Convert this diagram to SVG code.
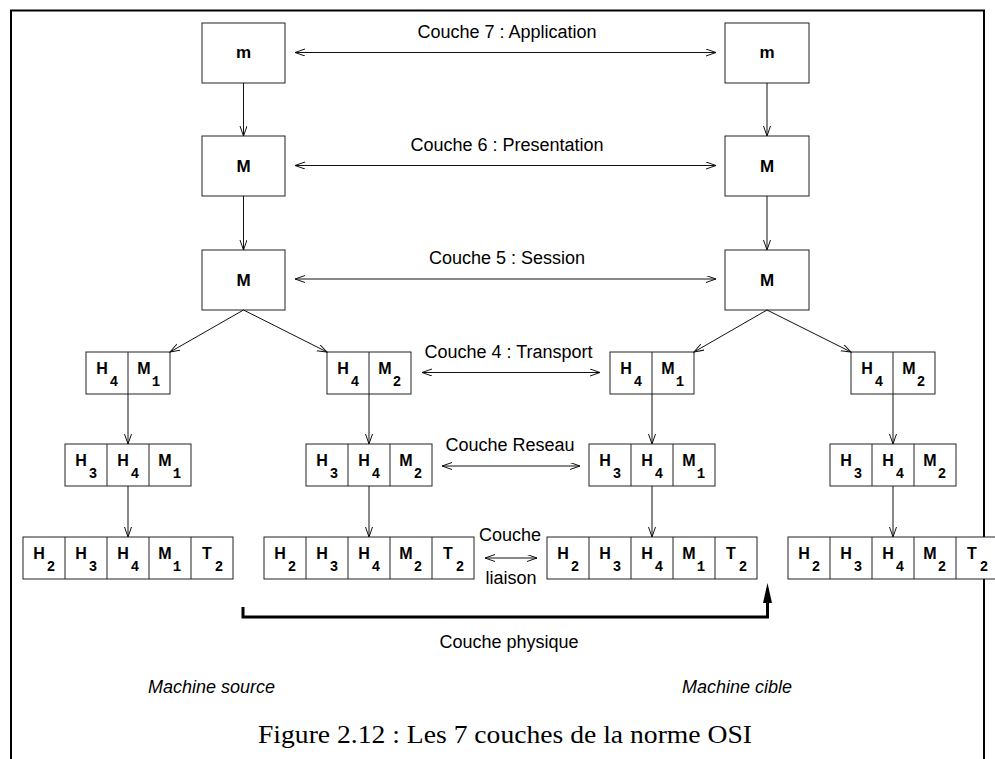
<svg xmlns="http://www.w3.org/2000/svg" width="995" height="759" viewBox="0 0 995 759">
  <style>
    .bx { fill: #fff; stroke: #222; stroke-width: 1; }
    .dv { stroke: #222; stroke-width: 1; }
    .ln { stroke: #111; stroke-width: 1; fill: none; }
    .lbl { font-family: "Liberation Sans", Arial, sans-serif; font-size: 18px; fill: #000; }
    .it { font-family: "Liberation Sans", Arial, sans-serif; font-size: 18px; font-style: italic; fill: #000; }
    .big { font-family: "Liberation Sans", Arial, sans-serif; font-size: 16px; font-weight: bold; fill: #000; text-anchor: middle; }
    .one { font-family: "Liberation Sans", Arial, sans-serif; font-size: 17px; font-weight: bold; fill: #000; text-anchor: middle; }
    .sub { font-family: "Liberation Mono", "Courier New", monospace; font-size: 14px; font-weight: bold; fill: #000; text-anchor: middle; }
    .cap { font-family: "Liberation Serif", "Times New Roman", serif; font-size: 25px; fill: #000; }
  </style>
  <defs>
    <marker id="open" markerUnits="userSpaceOnUse" markerWidth="12" markerHeight="8" refX="10" refY="3.5" orient="auto-start-reverse">
      <path d="M0,0 L10,3.5 L0,7" fill="none" stroke="#111" stroke-width="1"/>
    </marker>
  </defs>

  <rect width="995" height="759" fill="#fff"/>

  <!-- page frame -->
  <path d="M11,759 V10.5 H984 V759" fill="none" stroke="#000" stroke-width="2"/>

  <!-- single-field messages, upper layers -->
  <g id="src-l7"><rect class="bx" x="202" y="23" width="83" height="60"/><text class="one" x="243.5" y="58">m</text></g>
  <g id="src-l6"><rect class="bx" x="202" y="136" width="83" height="60"/><text class="one" x="243.5" y="172">M</text></g>
  <g id="src-l5"><rect class="bx" x="202" y="250" width="83" height="60"/><text class="one" x="243.5" y="286">M</text></g>
  <g id="dst-l7"><rect class="bx" x="725" y="23" width="84" height="60"/><text class="one" x="767" y="58">m</text></g>
  <g id="dst-l6"><rect class="bx" x="725" y="136" width="84" height="60"/><text class="one" x="767" y="172">M</text></g>
  <g id="dst-l5"><rect class="bx" x="725" y="250" width="84" height="60"/><text class="one" x="767" y="286">M</text></g>

  <!-- transport segments (H4 + part of message) -->
  <g id="src-l4a">
    <rect class="bx" x="86" y="352" width="84" height="42"/><line class="dv" x1="128" y1="352" x2="128" y2="394"/>
    <text class="big" x="102" y="373.5">H</text><text class="sub" x="114" y="386">4</text>
    <text class="big" x="144" y="373.5">M</text><text class="sub" x="156" y="386">1</text>
  </g>
  <g id="src-l4b">
    <rect class="bx" x="327" y="352" width="84" height="42"/><line class="dv" x1="369" y1="352" x2="369" y2="394"/>
    <text class="big" x="343" y="373.5">H</text><text class="sub" x="355" y="386">4</text>
    <text class="big" x="385" y="373.5">M</text><text class="sub" x="397" y="386">2</text>
  </g>
  <g id="dst-l4a">
    <rect class="bx" x="610" y="352" width="84" height="42"/><line class="dv" x1="652" y1="352" x2="652" y2="394"/>
    <text class="big" x="626" y="373.5">H</text><text class="sub" x="638" y="386">4</text>
    <text class="big" x="668" y="373.5">M</text><text class="sub" x="680" y="386">1</text>
  </g>
  <g id="dst-l4b">
    <rect class="bx" x="851" y="352" width="84" height="42"/><line class="dv" x1="893" y1="352" x2="893" y2="394"/>
    <text class="big" x="867" y="373.5">H</text><text class="sub" x="879" y="386">4</text>
    <text class="big" x="909" y="373.5">M</text><text class="sub" x="921" y="386">2</text>
  </g>

  <!-- network packets (H3 H4 M) -->
  <g id="src-l3a">
    <rect class="bx" x="65" y="444" width="126" height="42"/>
    <line class="dv" x1="107" y1="444" x2="107" y2="486"/><line class="dv" x1="149" y1="444" x2="149" y2="486"/>
    <text class="big" x="81" y="466">H</text><text class="sub" x="93" y="478">3</text>
    <text class="big" x="123" y="466">H</text><text class="sub" x="135" y="478">4</text>
    <text class="big" x="165" y="466">M</text><text class="sub" x="177" y="478">1</text>
  </g>
  <g id="src-l3b">
    <rect class="bx" x="306" y="444" width="126" height="42"/>
    <line class="dv" x1="348" y1="444" x2="348" y2="486"/><line class="dv" x1="390" y1="444" x2="390" y2="486"/>
    <text class="big" x="322" y="466">H</text><text class="sub" x="334" y="478">3</text>
    <text class="big" x="364" y="466">H</text><text class="sub" x="376" y="478">4</text>
    <text class="big" x="406" y="466">M</text><text class="sub" x="418" y="478">2</text>
  </g>
  <g id="dst-l3a">
    <rect class="bx" x="589" y="444" width="126" height="42"/>
    <line class="dv" x1="631" y1="444" x2="631" y2="486"/><line class="dv" x1="673" y1="444" x2="673" y2="486"/>
    <text class="big" x="605" y="466">H</text><text class="sub" x="617" y="478">3</text>
    <text class="big" x="647" y="466">H</text><text class="sub" x="659" y="478">4</text>
    <text class="big" x="689" y="466">M</text><text class="sub" x="701" y="478">1</text>
  </g>
  <g id="dst-l3b">
    <rect class="bx" x="830" y="444" width="126" height="42"/>
    <line class="dv" x1="872" y1="444" x2="872" y2="486"/><line class="dv" x1="914" y1="444" x2="914" y2="486"/>
    <text class="big" x="846" y="466">H</text><text class="sub" x="858" y="478">3</text>
    <text class="big" x="888" y="466">H</text><text class="sub" x="900" y="478">4</text>
    <text class="big" x="930" y="466">M</text><text class="sub" x="942" y="478">2</text>
  </g>

  <!-- data-link frames (H2 H3 H4 M T2) -->
  <g id="src-l2a">
    <rect class="bx" x="23" y="537" width="210" height="42"/>
    <line class="dv" x1="65" y1="537" x2="65" y2="579"/><line class="dv" x1="107" y1="537" x2="107" y2="579"/>
    <line class="dv" x1="149" y1="537" x2="149" y2="579"/><line class="dv" x1="191" y1="537" x2="191" y2="579"/>
    <text class="big" x="39" y="559">H</text><text class="sub" x="51" y="571">2</text>
    <text class="big" x="81" y="559">H</text><text class="sub" x="93" y="571">3</text>
    <text class="big" x="123" y="559">H</text><text class="sub" x="135" y="571">4</text>
    <text class="big" x="165" y="559">M</text><text class="sub" x="177" y="571">1</text>
    <text class="big" x="207" y="559">T</text><text class="sub" x="219" y="571">2</text>
  </g>
  <g id="src-l2b">
    <rect class="bx" x="264" y="537" width="210" height="42"/>
    <line class="dv" x1="306" y1="537" x2="306" y2="579"/><line class="dv" x1="348" y1="537" x2="348" y2="579"/>
    <line class="dv" x1="390" y1="537" x2="390" y2="579"/><line class="dv" x1="432" y1="537" x2="432" y2="579"/>
    <text class="big" x="280" y="559">H</text><text class="sub" x="292" y="571">2</text>
    <text class="big" x="322" y="559">H</text><text class="sub" x="334" y="571">3</text>
    <text class="big" x="364" y="559">H</text><text class="sub" x="376" y="571">4</text>
    <text class="big" x="406" y="559">M</text><text class="sub" x="418" y="571">2</text>
    <text class="big" x="448" y="559">T</text><text class="sub" x="460" y="571">2</text>
  </g>
  <g id="dst-l2a">
    <rect class="bx" x="547" y="537" width="210" height="42"/>
    <line class="dv" x1="589" y1="537" x2="589" y2="579"/><line class="dv" x1="631" y1="537" x2="631" y2="579"/>
    <line class="dv" x1="673" y1="537" x2="673" y2="579"/><line class="dv" x1="715" y1="537" x2="715" y2="579"/>
    <text class="big" x="563" y="559">H</text><text class="sub" x="575" y="571">2</text>
    <text class="big" x="605" y="559">H</text><text class="sub" x="617" y="571">3</text>
    <text class="big" x="647" y="559">H</text><text class="sub" x="659" y="571">4</text>
    <text class="big" x="689" y="559">M</text><text class="sub" x="701" y="571">1</text>
    <text class="big" x="731" y="559">T</text><text class="sub" x="743" y="571">2</text>
  </g>
  <g id="dst-l2b">
    <rect class="bx" x="788" y="537" width="210" height="42"/>
    <line class="dv" x1="830" y1="537" x2="830" y2="579"/><line class="dv" x1="872" y1="537" x2="872" y2="579"/>
    <line class="dv" x1="914" y1="537" x2="914" y2="579"/><line class="dv" x1="956" y1="537" x2="956" y2="579"/>
    <text class="big" x="804" y="559">H</text><text class="sub" x="816" y="571">2</text>
    <text class="big" x="846" y="559">H</text><text class="sub" x="858" y="571">3</text>
    <text class="big" x="888" y="559">H</text><text class="sub" x="900" y="571">4</text>
    <text class="big" x="930" y="559">M</text><text class="sub" x="942" y="571">2</text>
    <text class="big" x="972" y="559">T</text><text class="sub" x="984" y="571">2</text>
  </g>

  <!-- connectors -->
  <g id="connectors">
    <!-- encapsulation, source side -->
    <line class="ln" x1="243.5" y1="83" x2="243.5" y2="136" marker-end="url(#open)"/>
    <line class="ln" x1="243.5" y1="196" x2="243.5" y2="250" marker-end="url(#open)"/>
    <line class="ln" x1="243.5" y1="310" x2="170" y2="352" marker-end="url(#open)"/>
    <line class="ln" x1="243.5" y1="310" x2="327" y2="352" marker-end="url(#open)"/>
    <line class="ln" x1="128" y1="394" x2="128" y2="444" marker-end="url(#open)"/>
    <line class="ln" x1="369" y1="394" x2="369" y2="444" marker-end="url(#open)"/>
    <line class="ln" x1="128" y1="486" x2="128" y2="537" marker-end="url(#open)"/>
    <line class="ln" x1="369" y1="486" x2="369" y2="537" marker-end="url(#open)"/>
    <!-- encapsulation, target side -->
    <line class="ln" x1="767" y1="83" x2="767" y2="136" marker-end="url(#open)"/>
    <line class="ln" x1="767" y1="196" x2="767" y2="250" marker-end="url(#open)"/>
    <line class="ln" x1="767" y1="310" x2="694" y2="352" marker-end="url(#open)"/>
    <line class="ln" x1="767" y1="310" x2="851" y2="352" marker-end="url(#open)"/>
    <line class="ln" x1="652" y1="394" x2="652" y2="444" marker-end="url(#open)"/>
    <line class="ln" x1="893" y1="394" x2="893" y2="444" marker-end="url(#open)"/>
    <line class="ln" x1="652" y1="486" x2="652" y2="537" marker-end="url(#open)"/>
    <line class="ln" x1="893" y1="486" x2="893" y2="537" marker-end="url(#open)"/>
    <!-- peer-to-peer dialogues -->
    <line class="ln" x1="295" y1="52.5" x2="716" y2="52.5" marker-start="url(#open)" marker-end="url(#open)"/>
    <line class="ln" x1="295" y1="165.5" x2="716" y2="165.5" marker-start="url(#open)" marker-end="url(#open)"/>
    <line class="ln" x1="295" y1="279" x2="716" y2="279" marker-start="url(#open)" marker-end="url(#open)"/>
    <line class="ln" x1="422" y1="372.5" x2="600" y2="372.5" marker-start="url(#open)" marker-end="url(#open)"/>
    <line class="ln" x1="442" y1="466" x2="580" y2="466" marker-start="url(#open)" marker-end="url(#open)"/>
    <line class="ln" x1="485" y1="558" x2="537" y2="558" marker-start="url(#open)" marker-end="url(#open)"/>
    <!-- physical medium -->
    <path d="M243,607 V617 H767.5 V600" fill="none" stroke="#000" stroke-width="3"/>
    <path d="M767.5,583 L772,603 L763,603 Z" fill="#000"/>
  </g>

  <!-- layer labels -->
  <text class="lbl" x="507" y="38" text-anchor="middle">Couche 7 : Application</text>
  <text class="lbl" x="507" y="151" text-anchor="middle">Couche 6 : Presentation</text>
  <text class="lbl" x="507" y="264" text-anchor="middle">Couche 5 : Session</text>
  <text class="lbl" x="508.5" y="358" text-anchor="middle">Couche 4 : Transport</text>
  <text class="lbl" x="510" y="451" text-anchor="middle">Couche Reseau</text>
  <text class="lbl" x="510" y="541" text-anchor="middle">Couche</text>
  <text class="lbl" x="511" y="584" text-anchor="middle">liaison</text>
  <text class="lbl" x="509" y="648" text-anchor="middle">Couche physique</text>
  <text class="it" x="148" y="693">Machine source</text>
  <text class="it" x="682" y="693">Machine cible</text>

  <text class="cap" x="258" y="743" textLength="494" lengthAdjust="spacingAndGlyphs">Figure 2.12 : Les 7 couches de la norme OSI</text>
</svg>
